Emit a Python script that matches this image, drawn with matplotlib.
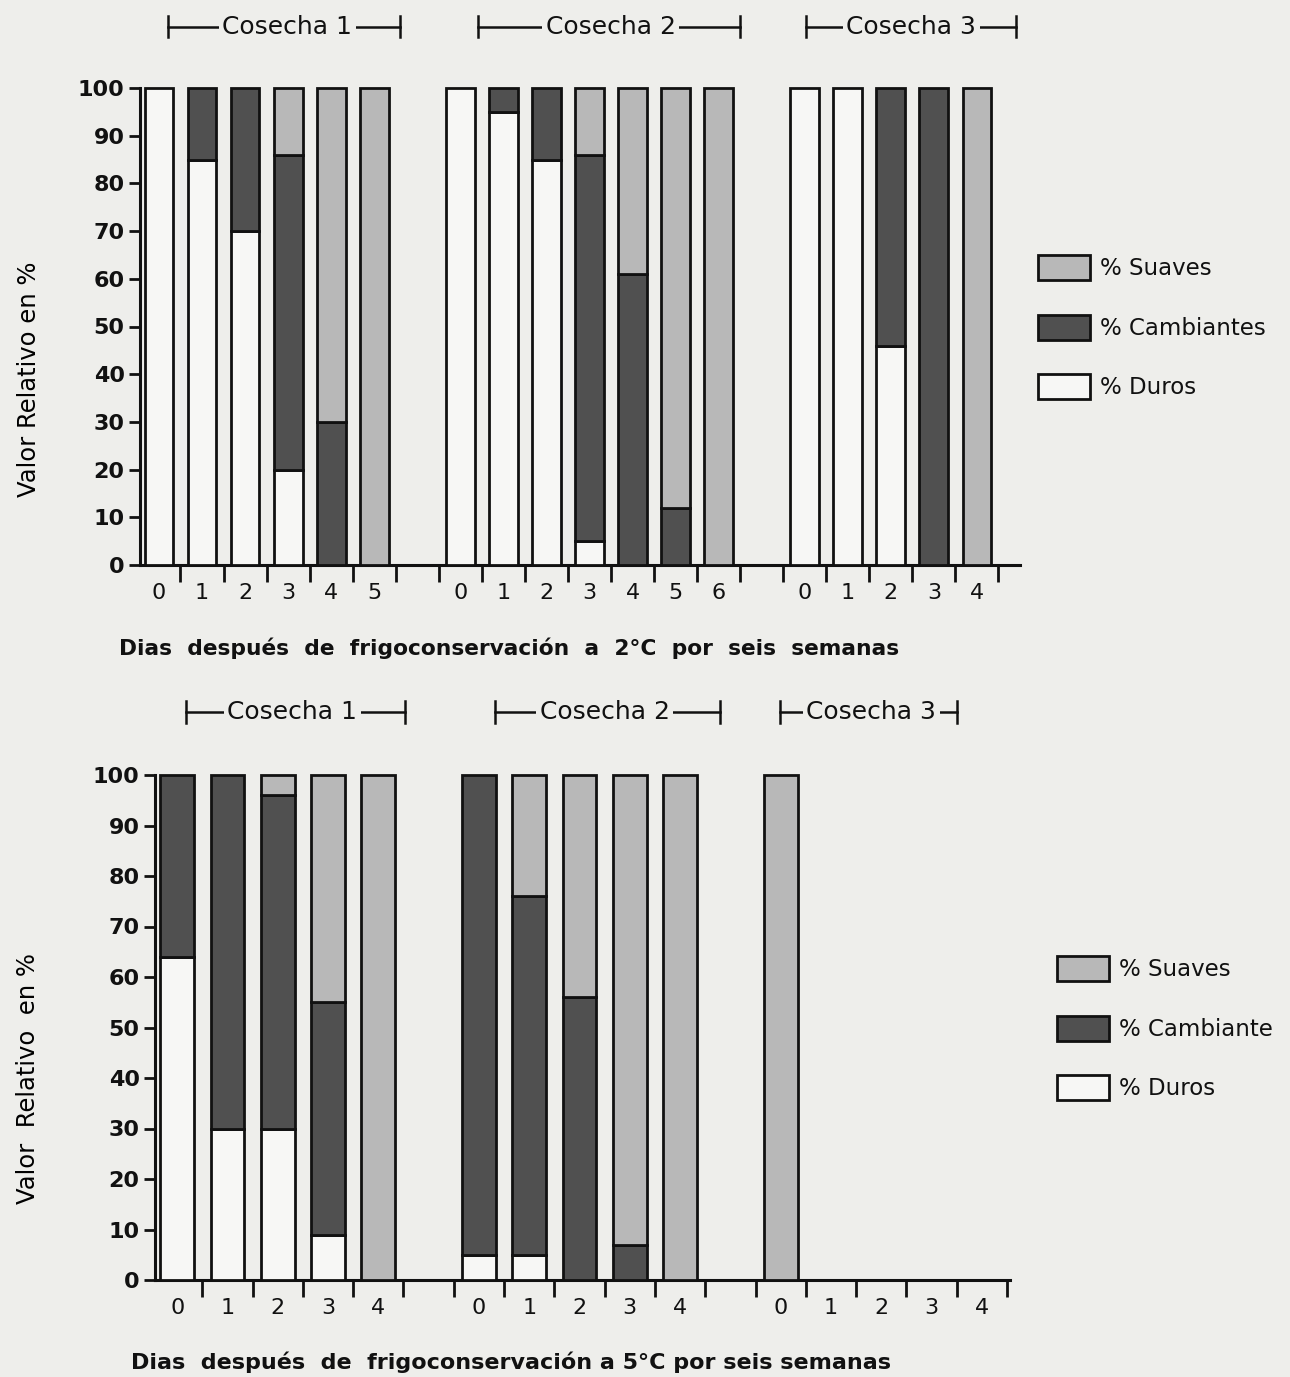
import matplotlib
matplotlib.use("Agg")
import matplotlib.pyplot as plt
from matplotlib.patches import Patch
from matplotlib.lines import Line2D

# ---------------- data ----------------
# Panel A: 2 °C, six weeks
days_2 = ["0", "1", "2", "3", "4", "5", "0", "1", "2", "3", "4", "5", "6", "0", "1", "2", "3", "4"]
slots_2 = [0, 1, 2, 3, 4, 5, 7, 8, 9, 10, 11, 12, 13, 15, 16, 17, 18, 19]
duros_2 = [100, 85, 70, 20, 0, 0, 100, 95, 85, 5, 0, 0, 0, 100, 100, 46, 0, 0]
camb_2 = [0, 15, 30, 66, 30, 0, 0, 5, 15, 81, 61, 12, 0, 0, 0, 54, 100, 0]
suaves_2 = [0, 0, 0, 14, 70, 100, 0, 0, 0, 14, 39, 88, 100, 0, 0, 0, 0, 100]

# Panel B: 5 °C, six weeks (Cosecha 3 only has day 0)
days_5 = ["0", "1", "2", "3", "4", "0", "1", "2", "3", "4", "0", "1", "2", "3", "4"]
slots_5 = [0, 1, 2, 3, 4, 6, 7, 8, 9, 10, 12, 13, 14, 15, 16]
duros_5 = [64, 30, 30, 9, 0, 5, 5, 0, 0, 0, 0, 0, 0, 0, 0]
camb_5 = [36, 70, 66, 46, 0, 95, 71, 56, 7, 0, 0, 0, 0, 0, 0]
suaves_5 = [0, 0, 4, 45, 100, 0, 24, 44, 93, 100, 100, 0, 0, 0, 0]

groups = ["Cosecha 1", "Cosecha 2", "Cosecha 3"]
series = ["% Duros", "% Cambiantes", "% Suaves"]

BG = "#eeeeeb"
C_DUROS = "#f7f7f5"
C_CAMB = "#505050"
C_SUAV = "#b8b8b8"

plt.rcParams["font.family"] = ["DejaVu Sans"]

fig = plt.figure(figsize=(12.9, 13.77), dpi=100, facecolor=BG)
W, H = 1290.0, 1377.0


def make_axes(left_px, right_px, bottom_px, top_px):
    return fig.add_axes([left_px / W, 1 - bottom_px / H, (right_px - left_px) / W, (bottom_px - top_px) / H])


def draw_panel(ax, slots, days, duros, camb, suav, xlim, nticks):
    ax.set_facecolor(BG)
    width = 0.67
    for i, s in enumerate(slots):
        base = 0
        for val, col in ((duros[i], C_DUROS), (camb[i], C_CAMB), (suav[i], C_SUAV)):
            if val > 0:
                ax.bar(s, val, width=width, bottom=base, color=col, edgecolor="#111111",
                       linewidth=2.0, clip_on=False, zorder=3)
                base += val
    ax.set_xlim(*xlim)
    ax.set_ylim(0, 100)
    for sp in ("top", "right"):
        ax.spines[sp].set_visible(False)
    for sp in ("left", "bottom"):
        ax.spines[sp].set_linewidth(2.2)
        ax.spines[sp].set_color("#111111")
    ax.set_yticks(range(0, 101, 10))
    ax.set_yticklabels([str(v) for v in range(0, 101, 10)], fontsize=16, fontweight="bold")
    ax.tick_params(axis="y", direction="out", length=8, width=2, pad=3, colors="#111111")
    ax.set_xticks([k + 0.5 for k in range(nticks)])
    ax.set_xticklabels([])
    ax.tick_params(axis="x", which="major", direction="out", length=12, width=2, colors="#111111")
    ax.set_xticks(slots, minor=True)
    ax.set_xticklabels(days, minor=True, fontsize=16)
    ax.tick_params(axis="x", which="minor", length=0, pad=13, labelcolor="#111111")


def header(ax, x0, x1, xc, y, text, fs):
    ax.add_line(Line2D([x0, x1], [y, y], color="#111111", lw=1.8, clip_on=False))
    for xe in (x0, x1):
        ax.add_line(Line2D([xe, xe], [y - 2.2, y + 2.2], color="#111111", lw=1.8, clip_on=False))
    ax.text(xc, y, text, ha="center", va="center", fontsize=fs, color="#111111", clip_on=False,
            bbox=dict(facecolor=BG, edgecolor="none", pad=2.5), zorder=5)


# ---------- top panel ----------
ax1 = make_axes(140, 1020, 565, 88)
draw_panel(ax1, slots_2, days_2, duros_2, camb_2, suaves_2, (-0.44, 20.0), 20)
ax1.set_ylabel("Valor Relativo en %", fontsize=17.5)
ax1.yaxis.set_label_coords(-0.112, 0.39)
header(ax1, 0.21, 5.6, 2.98, 112.8, groups[0], 18)
header(ax1, 7.42, 13.5, 10.5, 112.8, groups[1], 18)
header(ax1, 15.02, 19.9, 17.47, 112.8, groups[2], 18)
fig.text(509 / W, 1 - 648 / H, "Dias  después  de  frigoconservación  a  2°C  por  seis  semanas",
         ha="center", va="center", fontsize=15.7, fontweight="bold", color="#111111")

# ---------- bottom panel ----------
ax2 = make_axes(155, 1010, 1280, 775)
draw_panel(ax2, slots_5, days_5, duros_5, camb_5, suaves_5, (-0.44, 16.56), 17)
ax2.set_ylabel("Valor  Relativo  en %", fontsize=17.5)
ax2.yaxis.set_label_coords(-0.135, 0.40)
header(ax2, 0.18, 4.53, 2.29, 112.5, groups[0], 18)
header(ax2, 6.32, 10.8, 8.5, 112.5, groups[1], 18)
header(ax2, 11.99, 15.5, 13.8, 112.5, groups[2], 18)
fig.text(511 / W, 1 - 1362 / H, "Dias  después  de  frigoconservación a 5°C por seis semanas",
         ha="center", va="center", fontsize=16, fontweight="bold", color="#111111")

# ---------- legends ----------
def legend_at(x_px, y_px, labels):
    handles = [Patch(facecolor=C_SUAV, edgecolor="#111111", linewidth=2),
               Patch(facecolor=C_CAMB, edgecolor="#111111", linewidth=2),
               Patch(facecolor=C_DUROS, edgecolor="#111111", linewidth=2)]
    fig.legend(handles, labels, loc="upper left", bbox_to_anchor=(x_px / W, 1 - y_px / H),
               frameon=False, fontsize=16.5, handlelength=2.25, handleheight=1.3,
               handletextpad=0.45, labelspacing=1.5, borderpad=0, borderaxespad=0,
               labelcolor="#111111")

legend_at(1038, 255, ["% Suaves", "% Cambiantes", "% Duros"])
legend_at(1057, 956, ["% Suaves", "% Cambiante", "% Duros"])

fig.savefig("out.png", dpi=100, facecolor=BG)
